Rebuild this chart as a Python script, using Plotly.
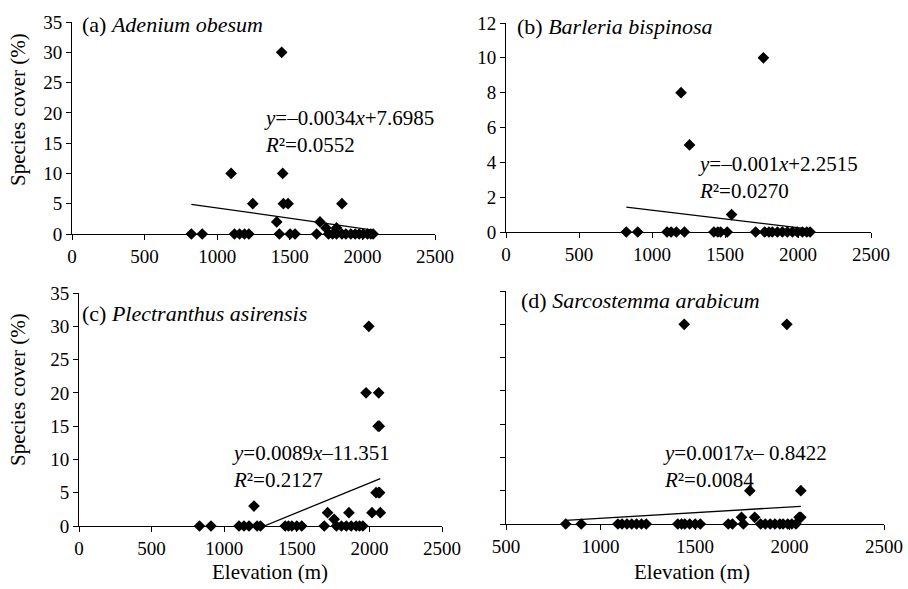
import plotly.graph_objects as go

# ---------------- data ----------------
elev_a = [822, 897, 1119, 1154, 1188, 1218, 1428, 1502, 1536, 1685, 1767, 1795, 1822, 1859,
          1886, 1920, 1950, 1978, 2005, 2035, 2058, 2074,
          1444, 1096, 1451, 1245, 1456, 1488, 1859, 1410, 1708, 1749, 1822]
cover_a = [0] * 22 + [30, 10, 10, 5, 5, 5, 5, 2, 2, 1, 1]

elev_b = [824, 902, 1103, 1131, 1167, 1222, 1424, 1451, 1470, 1515, 1710, 1772, 1801, 1824,
          1859, 1893, 1927, 1962, 1996, 2030, 2060, 2083,
          1763, 1199, 1257, 1545]
cover_b = [0] * 22 + [10, 8, 5, 1]

elev_c = [830, 909, 1102, 1136, 1171, 1227, 1250, 1420, 1443, 1466, 1500, 1534, 1689, 1773,
          1807, 1841, 1875, 1909, 1932, 1955,
          1205, 1712, 1757, 1859, 1996, 1977, 2064, 2060, 2068, 2046, 2064, 2070, 2018, 2075]
cover_c = [0] * 20 + [3, 2, 1, 2, 30, 20, 20, 15, 15, 5, 5, 5, 2, 2]

elev_d = [816, 898, 1092, 1114, 1140, 1165, 1191, 1217, 1242, 1409, 1429, 1446, 1472, 1501,
          1528, 1676, 1698, 1756, 1847, 1872, 1898, 1923, 1949, 1966, 1991, 2012, 2034,
          1443, 1986, 1790, 2060, 1746, 1816, 2051, 2060]
cover_d = [0] * 27 + [30, 30, 5, 5, 1, 1, 1, 1]

slopes = [-0.0034, -0.001, 0.0089, 0.0017]
intercepts = [7.6985, 2.2515, -11.351, -0.8422]
trend_x = [[822, 2074], [824, 2083], [1275, 2075], [816, 2060]]

titles = ["(a) <i>Adenium obesum</i>", "(b) <i>Barleria bispinosa</i>",
          "(c) <i>Plectranthus asirensis</i>", "(d) <i>Sarcostemma arabicum</i>"]
equations = ["<i>y</i>=–0.0034<i>x</i>+7.6985", "<i>y</i>=–0.001<i>x</i>+2.2515",
             "<i>y</i>=0.0089<i>x</i>–11.351", "<i>y</i>=0.0017<i>x</i>– 0.8422"]
r2 = ["<i>R</i>²=0.0552", "<i>R</i>²=0.0270", "<i>R</i>²=0.2127", "<i>R</i>²=0.0084"]

x_title = "Elevation (m)"
y_title = "Species cover (%)"

# ---------------- layout helpers ----------------
W, H = 908, 589
FONT = "Liberation Serif"


def px(x):
    return x / W


def py(y):
    return 1 - y / H


# pixel boxes: (left, right, top, bottom)
boxes = [(72, 435, 22, 234), (506, 871, 23, 232), (79, 442, 293, 526), (506, 884, 291, 524)]
yranges = [[0, 35], [0, 12], [0, 35], [0, 35]]
ydticks = [5, 2, 5, 5]
xranges = [[0, 2500], [0, 2500], [0, 2500], [500, 2500]]
show_ylabels = [True, True, True, False]

series = [(elev_a, cover_a), (elev_b, cover_b), (elev_c, cover_c), (elev_d, cover_d)]

fig = go.Figure()
for i, (ex, cv) in enumerate(series):
    sfx = "" if i == 0 else str(i + 1)
    fig.add_trace(go.Scatter(x=ex, y=cv, mode="markers", xaxis="x" + sfx, yaxis="y" + sfx,
                             marker=dict(symbol="diamond", size=9, color="black"),
                             cliponaxis=False, showlegend=False))
    tx = trend_x[i]
    ty = [slopes[i] * v + intercepts[i] for v in tx]
    fig.add_trace(go.Scatter(x=tx, y=ty, mode="lines", xaxis="x" + sfx, yaxis="y" + sfx,
                             line=dict(color="black", width=1.3), showlegend=False))

axis_common = dict(showline=True, linecolor="black", linewidth=1, showgrid=False,
                   zeroline=False, ticks="outside", ticklen=5, tickcolor="black",
                   tickfont=dict(family=FONT, size=19, color="black"))

layout = dict(width=W, height=H, margin=dict(l=0, r=0, t=0, b=0, autoexpand=False),
              paper_bgcolor="white", plot_bgcolor="white", showlegend=False)

for i in range(4):
    sfx = "" if i == 0 else str(i + 1)
    l, r, t, b = boxes[i]
    layout["xaxis" + sfx] = dict(axis_common, domain=[px(l), px(r)], range=xranges[i],
                                 dtick=500, anchor="y" + sfx, automargin=False)
    layout["yaxis" + sfx] = dict(axis_common, domain=[py(b), py(t)], range=yranges[i],
                                 dtick=ydticks[i], anchor="x" + sfx, automargin=False,
                                 showticklabels=show_ylabels[i])

fig.update_layout(**layout)

# annotations (pixel positions)
title_pos = [(80, 24), (515, 27), (80, 313), (519, 300)]
eq_pos = [(262, 131), (696, 178), (230, 466), (661, 466)]

anns = []
for i in range(4):
    anns.append(dict(text=titles[i], x=px(title_pos[i][0]), y=py(title_pos[i][1]),
                     xref="paper", yref="paper", xanchor="left", yanchor="middle",
                     showarrow=False, font=dict(family=FONT, size=22, color="black")))
    anns.append(dict(text=equations[i] + "<br>" + r2[i], x=px(eq_pos[i][0]),
                     y=py(eq_pos[i][1]), xref="paper", yref="paper", xanchor="left",
                     yanchor="middle", align="left", showarrow=False,
                     font=dict(family=FONT, size=21, color="black")))

for (x, y) in [(18, 110), (18, 390)]:
    anns.append(dict(text=y_title, x=px(x), y=py(y), xref="paper", yref="paper",
                     textangle=-90, showarrow=False, xanchor="center", yanchor="middle",
                     font=dict(family=FONT, size=21, color="black")))
for (x, y) in [(270, 572), (692, 572)]:
    anns.append(dict(text=x_title, x=px(x), y=py(y), xref="paper", yref="paper",
                     showarrow=False, xanchor="center", yanchor="middle",
                     font=dict(family=FONT, size=21, color="black")))

fig.update_layout(annotations=anns)
fig.write_html("out.html")
